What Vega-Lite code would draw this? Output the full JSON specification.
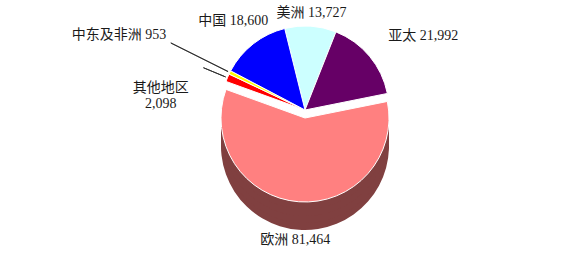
{
  "$schema": "https://vega.github.io/schema/vega-lite/v6.json",
  "width": 514,
  "height": 220,
  "padding": {"left": 48, "top": 0, "right": 0, "bottom": 48},
  "autosize": {"type": "none"},
  "background": "white",
  "config": {"view": {"stroke": null}, "text": {"font": "Liberation Serif, Noto Sans CJK SC", "fontSize": 14, "color": "#1a1a1a"}},
  "data": {"values": [
    {"region": "美洲", "value": 13727, "ord": 1, "label": "美洲 13,727"},
    {"region": "亚太", "value": 21992, "ord": 2, "label": "亚太 21,992"},
    {"region": "欧洲", "value": 81464, "ord": 3, "label": "欧洲 81,464"},
    {"region": "其他地区", "value": 2098, "ord": 4, "label": "其他地区\n2,098"},
    {"region": "中东及非洲", "value": 953, "ord": 5, "label": "中东及非洲 953"},
    {"region": "中国", "value": 18600, "ord": 6, "label": "中国 18,600"}
  ]},
  "encoding": {
    "theta": {"field": "value", "type": "quantitative", "stack": true, "scale": {"range": [-0.244, 6.0392]}},
    "order": {"field": "ord", "type": "quantitative"}
  },
  "layer": [
    {
      "mark": {"type": "arc", "radius": 84, "stroke": "white", "strokeWidth": 1},
      "encoding": {
        "color": {"field": "region", "type": "nominal", "legend": null,
          "scale": {"domain": ["美洲", "亚太", "欧洲", "其他地区", "中东及非洲", "中国"],
                    "range": ["#CCFFFF", "#660066", "#FF8080", "#FF0000", "#FFFF00", "#0000FF"]}},
        "opacity": {"condition": {"test": "datum.region === '欧洲'", "value": 0}, "value": 1}
      }
    },
    {
      "mark": {"type": "arc", "radius": 84, "fill": "#804040", "yOffset": 36},
      "encoding": {"opacity": {"condition": {"test": "datum.region === '欧洲'", "value": 1}, "value": 0}}
    },
    {
      "mark": {"type": "arc", "radius": 84, "fill": "#804040", "yOffset": 29},
      "encoding": {"opacity": {"condition": {"test": "datum.region === '欧洲'", "value": 1}, "value": 0}}
    },
    {
      "mark": {"type": "arc", "radius": 84, "fill": "#804040", "yOffset": 22},
      "encoding": {"opacity": {"condition": {"test": "datum.region === '欧洲'", "value": 1}, "value": 0}}
    },
    {
      "mark": {"type": "arc", "radius": 84, "fill": "#804040", "yOffset": 15},
      "encoding": {"opacity": {"condition": {"test": "datum.region === '欧洲'", "value": 1}, "value": 0}}
    },
    {
      "mark": {"type": "arc", "radius": 84, "fill": "#FF8080", "stroke": "white", "strokeWidth": 1, "yOffset": 8},
      "encoding": {"opacity": {"condition": {"test": "datum.region === '欧洲'", "value": 1}, "value": 0}}
    },
    {
      "mark": {"type": "arc", "radius": 150, "radius2": 86, "padAngle": 0.6, "fill": null, "stroke": "#333333", "strokeWidth": 1},
      "encoding": {"opacity": {"condition": {"test": "datum.region === '中东及非洲'", "value": 1}, "value": 0}}
    },
    {
      "mark": {"type": "arc", "radius": 110, "radius2": 86, "padAngle": 0.6, "fill": null, "stroke": "#333333", "strokeWidth": 1},
      "encoding": {"opacity": {"condition": {"test": "datum.region === '其他地区'", "value": 1}, "value": 0}}
    },
    {
      "mark": {"type": "text", "radius": 97},
      "encoding": {"text": {"field": "label"}, "opacity": {"condition": {"test": "datum.region === '美洲'", "value": 1}, "value": 0}}
    },
    {
      "mark": {"type": "text", "radius": 115, "dx": 30},
      "encoding": {"text": {"field": "label"}, "opacity": {"condition": {"test": "datum.region === '亚太'", "value": 1}, "value": 0}}
    },
    {
      "mark": {"type": "text", "radius": 130},
      "encoding": {"text": {"field": "label"}, "opacity": {"condition": {"test": "datum.region === '欧洲'", "value": 1}, "value": 0}}
    },
    {
      "mark": {"type": "text", "radius": 115, "dx": -38, "dy": 22, "lineBreak": "\n"},
      "encoding": {"text": {"field": "label"}, "opacity": {"condition": {"test": "datum.region === '其他地区'", "value": 1}, "value": 0}}
    },
    {
      "mark": {"type": "text", "radius": 155, "align": "right", "dy": -6},
      "encoding": {"text": {"field": "label"}, "opacity": {"condition": {"test": "datum.region === '中东及非洲'", "value": 1}, "value": 0}}
    },
    {
      "mark": {"type": "text", "radius": 113, "dx": -2},
      "encoding": {"text": {"field": "label"}, "opacity": {"condition": {"test": "datum.region === '中国'", "value": 1}, "value": 0}}
    }
  ]
}
